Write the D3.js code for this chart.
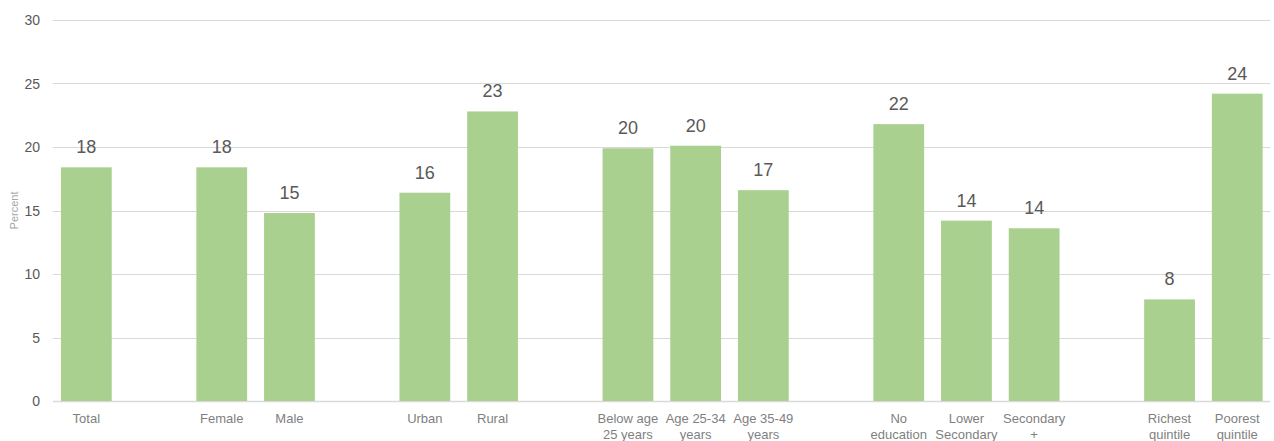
<!DOCTYPE html>
<html><head><meta charset="utf-8">
<script src="https://cdn.jsdelivr.net/npm/d3@7"></script>
<style>body{margin:0;background:#fff}svg{display:block}</style>
</head><body>
<svg id="c" width="1274" height="441"></svg>
<script>
// Categories in slot order; "g" entries are gaps between groups
const slots = ["Total","g1","Female","Male","g2","Urban","Rural","g3","Below age|25 years","Age 25-34|years","Age 35-49|years","g4","No|education","Lower|Secondary","Secondary|+","g5","Richest|quintile","Poorest|quintile"];
const categories = ["Total","Female","Male","Urban","Rural","Below age|25 years","Age 25-34|years","Age 35-49|years","No|education","Lower|Secondary","Secondary|+","Richest|quintile","Poorest|quintile"];
const values = [18.4, 18.4, 14.8, 16.4, 22.8, 19.9, 20.1, 16.6, 21.8, 14.2, 13.6, 8.0, 24.2];
const labels = ["18","18","15","16","23","20","20","17","22","14","14","8","24"];
const yTicks = [0,5,10,15,20,25,30];

(function(){
const svg = d3.select("#c");
const mLeft = 52.5, mRight = 1271.1, mTop = 20, mBottom = 401;
const x = d3.scaleBand().domain(slots).range([mLeft, mRight]).paddingInner(0.25).paddingOuter(0.125);
const y = d3.scaleLinear().domain([0,30]).range([mBottom, mTop]);
const font = "'Liberation Sans', Arial, sans-serif";

// gridlines
svg.append("g").selectAll("line").data(yTicks).join("line")
  .attr("x1", 53).attr("x2", 1270)
  .attr("y1", d => Math.round(y(d)) + 0.5).attr("y2", d => Math.round(y(d)) + 0.5)
  .attr("stroke", "#d9d9d9").attr("stroke-width", d => d === 0 ? 1.5 : 1);

// y tick labels
svg.append("g").selectAll("text").data(yTicks).join("text")
  .attr("x", 40).attr("y", d => y(d) + 5)
  .attr("text-anchor", "end").attr("font-family", font).attr("font-size", 14)
  .attr("fill", "#595959").text(d => d);

// y axis title
svg.append("text").attr("transform", `translate(18,${(mTop+mBottom)/2}) rotate(-90)`)
  .attr("text-anchor", "middle").attr("font-family", font).attr("font-size", 11)
  .attr("fill", "#a6a6a6").text("Percent");

const data = categories.map((c,i) => ({c, v: values[i], l: labels[i]}));

// bars
svg.append("g").selectAll("rect").data(data).join("rect")
  .attr("x", d => x(d.c)).attr("width", x.bandwidth())
  .attr("y", d => y(d.v)).attr("height", d => y(0) - y(d.v))
  .attr("fill", "#a9d08e");

// value labels
svg.append("g").selectAll("text").data(data).join("text")
  .attr("x", d => x(d.c) + x.bandwidth()/2).attr("y", d => y(d.v) - 14)
  .attr("text-anchor", "middle").attr("font-family", font).attr("font-size", 18)
  .attr("fill", "#595959").text(d => d.l);

// category labels
const cg = svg.append("g").selectAll("text").data(data).join("text")
  .attr("x", d => x(d.c) + x.bandwidth()/2).attr("y", 423)
  .attr("text-anchor", "middle").attr("font-family", font).attr("font-size", 13)
  .attr("fill", "#7f7f7f");
cg.each(function(d){
  const parts = d.c.split("|");
  const t = d3.select(this);
  parts.forEach((p,i) => {
    t.append("tspan").attr("x", x(d.c) + x.bandwidth()/2).attr("dy", i === 0 ? 0 : 16).text(p);
  });
});
})();
</script>
</body></html>
